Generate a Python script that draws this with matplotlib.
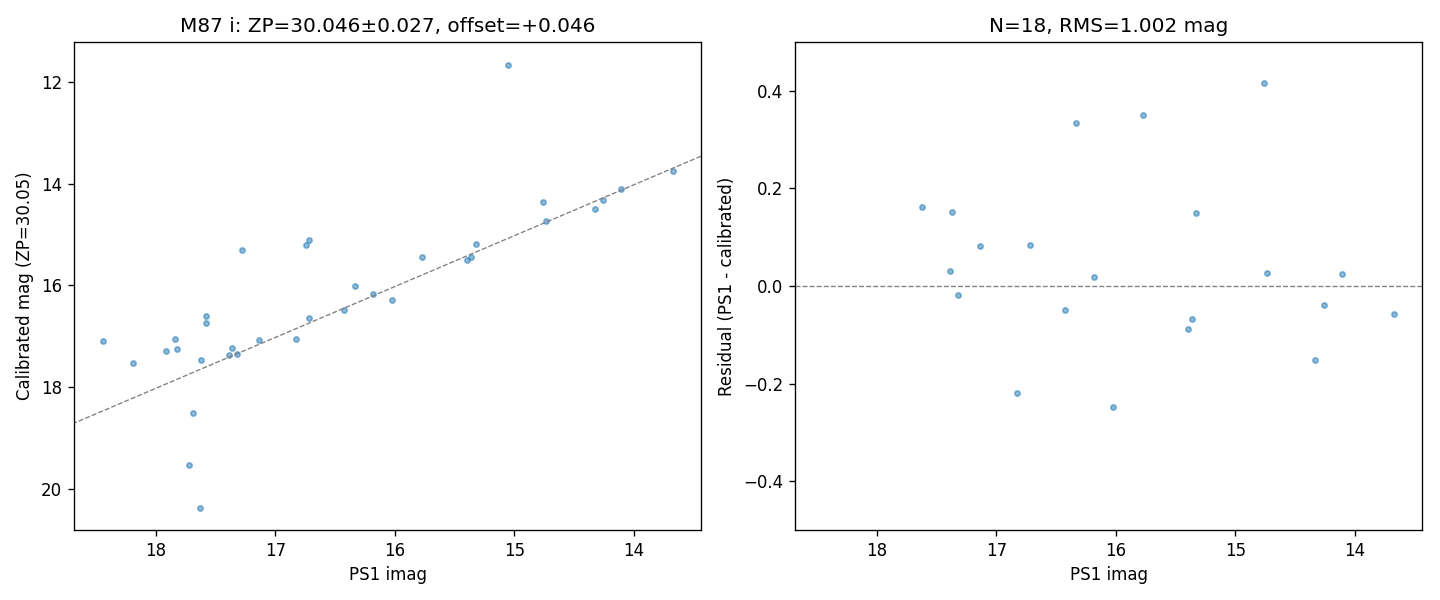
import matplotlib
matplotlib.use("Agg")
import matplotlib.pyplot as plt
import numpy as np

# Left panel: PS1 imag vs calibrated mag
ps1_left = [18.441, 18.190, 17.914, 17.838, 17.822, 17.621, 17.579, 17.579, 17.688, 17.721,
            17.629, 17.387, 17.362, 17.320, 17.278, 17.136, 16.826, 16.742, 16.717, 16.717,
            16.424, 16.332, 16.182, 16.023, 15.772, 15.395, 15.362, 15.320, 15.052, 14.759,
            14.734, 14.324, 14.257, 14.106, 13.671]
cal_left = [17.091, 17.523, 17.287, 17.052, 17.248, 17.464, 16.600, 16.737, 18.506, 19.528,
            20.373, 17.366, 17.228, 17.346, 15.302, 17.071, 17.052, 15.204, 15.106, 16.639,
            16.482, 16.010, 16.167, 16.285, 15.440, 15.499, 15.440, 15.184, 11.666, 14.359,
            14.732, 14.496, 14.319, 14.097, 13.749]

# Right panel: residuals
ps1_right = [17.621, 17.370, 17.136, 17.387, 17.320, 16.717, 16.424, 16.826, 16.332, 16.182,
             16.023, 15.772, 15.395, 15.362, 15.328, 14.759, 14.734, 14.332, 14.257, 14.106,
             13.674]
resid_right = [0.161, 0.151, 0.081, 0.030, -0.018, 0.085, -0.050, -0.219, 0.335, 0.019,
               -0.247, 0.350, -0.089, -0.067, 0.149, 0.415, 0.027, -0.151, -0.038, 0.025,
               -0.057]

fit_slope = 1.0
fit_intercept = 0.02

title_left = "M87 i: ZP=30.046±0.027, offset=+0.046"
title_right = "N=18, RMS=1.002 mag"

fig, (ax1, ax2) = plt.subplots(1, 2, figsize=(12, 5), dpi=120)

ax1.scatter(ps1_left, cal_left, s=10, alpha=0.5, color="C0")
ax1.axline((0, fit_intercept), slope=fit_slope, color="gray", ls="--", lw=0.8)
ax1.set_xlim(18.686, 13.439)
ax1.set_ylim(20.806, 11.214)
ax1.set_xlabel("PS1 imag")
ax1.set_ylabel("Calibrated mag (ZP=30.05)")
ax1.set_title(title_left)

ax2.scatter(ps1_right, resid_right, s=10, alpha=0.5, color="C0")
ax2.axhline(0, color="gray", ls="--", lw=0.8)
ax2.set_xlim(18.686, 13.439)
ax2.set_ylim(-0.5, 0.5)
ax2.set_xlabel("PS1 imag")
ax2.set_ylabel("Residual (PS1 - calibrated)")
ax2.set_title(title_right)

fig.subplots_adjust(left=0.0514, right=0.9875, bottom=0.1167, top=0.93, wspace=0.15)
fig.savefig("out.png", dpi=120)
